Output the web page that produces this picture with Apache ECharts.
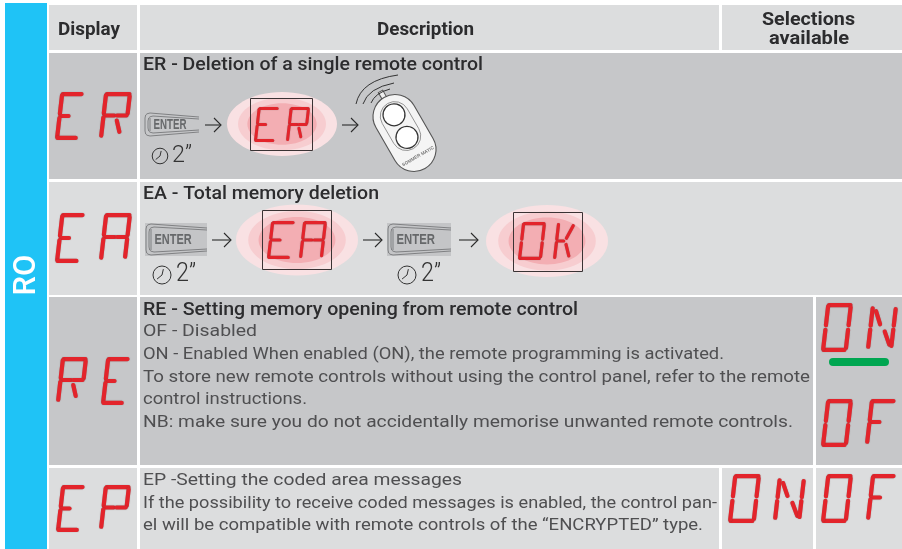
<!DOCTYPE html>
<html><head><meta charset="utf-8">
<style>html,body{margin:0;padding:0;background:#fff}#c{width:902px;height:549px}</style>
<script src="https://cdn.jsdelivr.net/npm/echarts@6/dist/echarts.min.js"></script>
</head><body><div id="c"></div>
<script>
const headerLabels = ['Display', 'Description', 'Selections', 'available'];
const sideLabel = 'RO';
const rowTitles = ['ER - Deletion of a single remote control', 'EA - Total memory deletion', 'RE - Setting memory opening from remote control'];
const rowThreeLines = ['OF - Disabled',
  'ON - Enabled When enabled (ON), the remote programming is activated.',
  'To store new remote controls without using the control panel, refer to the remote',
  'control instructions.',
  'NB: make sure you do not accidentally memorise unwanted remote controls.'];
const rowFourLines = ['EP -Setting the coded area messages',
  'If the possibility to receive coded messages is enabled, the control pan-',
  'el will be compatible with remote controls of the “ENCRYPTED” type.'];
const holdTime = '2”';
const enterLabel = 'ENTER';
const brandLabel = 'SOMMER MATIC';

const SEG = {
  a:[[.04,0],[.98,0]], b:[[1,.05],[1,.45]], c:[[1,.55],[1,.95]], d:[[.02,1],[.94,1]],
  e:[[0,.55],[0,.97]], f:[[0,.03],[0,.45]], g:[[.05,.5],[.45,.5]], G:[[.56,.5],[.96,.5]],
  r:[[.58,.62],[.74,.88]], n:[[.16,.1],[.4,.42]], m:[[.64,.6],[.9,.92]],
  k:[[.6,.42],[.94,.06]], l:[[.62,.6],[.88,.93]]
};
const LETTERS = {E:'afged', R:'afbgGer', A:'afbgGec', P:'afbgGe', O:'abcdef', F:'afge', N:'fenbmc', K:'fegkl'};

const els = [];
const mctx = document.createElement('canvas').getContext('2d');
function rect(x,y,w,h,fill){els.push({type:'rect',shape:{x,y,width:w,height:h},style:{fill}});}
function label(text,x,y,font,fill,targetW){
  mctx.font=font;
  const s = targetW ? targetW/mctx.measureText(text).width : 1;
  els.push({type:'text',x,y,scaleX:s,style:{text,x:0,y:0,font,fill,textAlign:'left',textVerticalAlign:'middle'}});
}
function seven(ch,x,y,w,h,lw){
  const s=.105*h;
  for(const k of LETTERS[ch]){
    const pts=SEG[k].map(([u,v])=>[x+lw/2+u*(w-lw-s)+(1-v)*s, y+lw/2+v*(h-lw)]);
    els.push({type:'polyline',shape:{points:pts},style:{stroke:'#e3242b',lineWidth:lw,lineCap:'round',fill:null,shadowColor:'rgba(70,70,70,.5)',shadowBlur:1}});
  }
}
function line(pts,stroke,lw){els.push({type:'polyline',shape:{points:pts},style:{stroke,lineWidth:lw,fill:null}});}
function arrow(x1,x2,y){line([[x1,y],[x2,y]],'#2a2a2a',1.1);line([[x2-7,y-7],[x2,y],[x2-7,y+7]],'#2a2a2a',1.1);}
function glow(cx,cy,rx,ry){
  [[1,'#f9e1e3'],[.8,'#f7cdd0'],[.63,'#f3aeb3']].forEach(([f,fill])=>
    els.push({type:'ellipse',shape:{cx,cy,rx:rx*f,ry:ry*(f==1?1:f+.02)},style:{fill}}));
}
function frame(x,y,w,h){els.push({type:'rect',shape:{x,y,width:w,height:h},style:{fill:null,stroke:'#3a3334',lineWidth:1}});}
function clock(cx,cy,r,tx,size,w){
  els.push({type:'circle',shape:{cx,cy,r},style:{fill:null,stroke:'#333',lineWidth:1}});
  line([[cx+r*.15,cy-r*.65],[cx,cy],[cx-r*.55,cy+r*.45]],'#333',1);
  label(holdTime,tx,cy,`300 ${size}px Roboto`,'#333',w);
}
function enterKey(x,y,w,h,bg){
  if(bg) rect(x,y,w,h,bg);
  const l=x+1,r=x+w,mid=y+h/2,s='#77787a';
  [[1,0,4],[4,3,3]].forEach(([dy,ins,drop])=>{
    const L=l+ins,T=y+dy,B=y+h-dy;
    line([[r,T+drop],[L+5,T],[L+2,T+.8],[L+.7,T+2],[L,T+5],[L,B-5],[L+.7,B-2],[L+2,B-.8],[L+5,B],[r,B-drop]],s,.9);
  });
  line([[x+6,y+6],[x+6,y+h-6]],s,.9);
  label(enterLabel,x+9.5,mid+.5,`bold ${10+h*.15}px "Liberation Sans"`,'#66686a',w*.6);
}
function remote(cx,cy){
  const kids=[
    {type:'rect',shape:{x:-2.5,y:-48,width:5,height:9},style:{fill:'#eee',stroke:'#555',lineWidth:1}},
    {type:'rect',shape:{x:-22,y:-41,width:44,height:82,r:22},style:{fill:'#f4f4f4',stroke:'#555',lineWidth:1.1}},
    {type:'rect',shape:{x:-14.5,y:-34,width:29,height:52,r:14.5},style:{fill:'#f4f4f4',stroke:'#888',lineWidth:.8}},
    {type:'circle',shape:{cx:0,cy:-21,r:11},style:{fill:'#fff',stroke:'#333',lineWidth:1.2}},
    {type:'circle',shape:{cx:0,cy:5,r:11},style:{fill:'#fff',stroke:'#333',lineWidth:1.2}},
    {type:'text',style:{text:brandLabel,x:0,y:27,font:'bold 4.6px "Liberation Sans"',fill:'#777',textAlign:'center',textVerticalAlign:'middle'}}
  ];
  els.push({type:'group',x:cx,y:cy,rotation:Math.PI/6,children:kids});
  [[356,104,361,80,398,75],[363,104,368,88,394,83],[371,103,375,93,390,89]].forEach(([a,b,c,d,e,f])=>
    els.push({type:'bezierCurve',shape:{x1:a,y1:b,cpx1:c,cpy1:d,x2:e,y2:f},style:{fill:null,stroke:'#333',lineWidth:1}}));
}

// ---------- backgrounds
const DK='#c6c7c9', LT='#dcddde';
rect(5,3,42,546,'#1fc3f6');
rect(49,5,88,45,LT); rect(140,5,579,45,LT); rect(722,5,180,45,LT);
rect(49,53,88,126,DK); rect(140,53,762,126,DK);
rect(49,182,88,113,LT); rect(140,182,762,113,LT);
rect(49,297,88,168,DK); rect(140,297,673,168,DK); rect(816,297,86,168,DK);
rect(49,468,88,81,LT); rect(140,468,579,81,LT); rect(722,468,91,81,LT); rect(816,468,86,81,LT);

// ---------- text
const H='500 18px Roboto', HB='700 18px Roboto', TXT='#2c2c2e', BODY='400 17px Roboto', GR='#4f4f51';
els.push({type:'text',x:27,y:275,rotation:Math.PI/2,style:{text:sideLabel,x:0,y:0,font:'500 31px Roboto',fill:'#fff',textAlign:'center',textVerticalAlign:'middle'}});
label(headerLabels[0],58,30,HB,TXT,62);
label(headerLabels[1],377,30,HB,TXT,97);
label(headerLabels[2],762,20,HB,TXT,93);
label(headerLabels[3],769,39,HB,TXT,80);
label(rowTitles[0],143,65,H,TXT,340);
label(rowTitles[1],143,194,H,TXT,236);
label(rowTitles[2],143,310,H,TXT,435);
[[332,114],[355,581],[378,667],[400,164],[423,650]].forEach(([y,w],i)=>label(rowThreeLines[i],143,y,BODY,GR,w));
[[481,319],[504,574],[526,560]].forEach(([y,w],i)=>label(rowFourLines[i],143,y,BODY,GR,w));

// ---------- big displays
[['E',55,92,29,48],['R',99,92,33,47],['E',55,213,30,50],['A',99,213,33,48],
 ['R',56,357,32,46],['E',101,357,29,48],['E',56,485,29,47],['P',99,485,32,45],
 ['O',821,303,32,49],['N',866,305,32,45],['O',821,399,32,48],['F',865,399,31,46],
 ['O',728,474,33,49],['N',773,477,33,44],['O',821,474,32,49],['F',866,474,30,47]
].forEach(([c,x,y,w,h])=>seven(c,x,y,w,h,4.2));
els.push({type:'rect',shape:{x:829,y:358,width:60,height:8,r:4},style:{fill:'#00a651'}});

// ---------- row one flow
enterKey(144,112,55,25);
arrow(205,221,125);
clock(160,156,7.8,172,23,20);
glow(282,124,55,32);
seven('E',254,107,25,35,3); seven('R',286,107,24,35,3);
frame(250.5,98.5,62,52);
arrow(342,358,125);
remote(404.5,133);

// ---------- row two flow
enterKey(145,223,62,33,'#c4c5c7');
arrow(212,231,240);
clock(162,275,9,176,25,20);
glow(297,240,61,35.5);
seven('E',267,221,28,38,3.2); seven('A',299,221,28,38,3.2);
frame(262.5,210.5,69,59);
arrow(363,382,240);
enterKey(387,223,64,33,'#c4c5c7');
arrow(459,478,240);
clock(407,275,9,421,25,20);
glow(547,241,61,36);
seven('O',518,222,28,38,3.2); seven('K',553,222,23,38,3.2);
frame(513.5,212.5,69,59);

const chart = echarts.init(document.getElementById('c'),null,{renderer:'canvas'});
chart.setOption({animation:false,backgroundColor:'#fff',graphic:{elements:els}});
</script></body></html>
